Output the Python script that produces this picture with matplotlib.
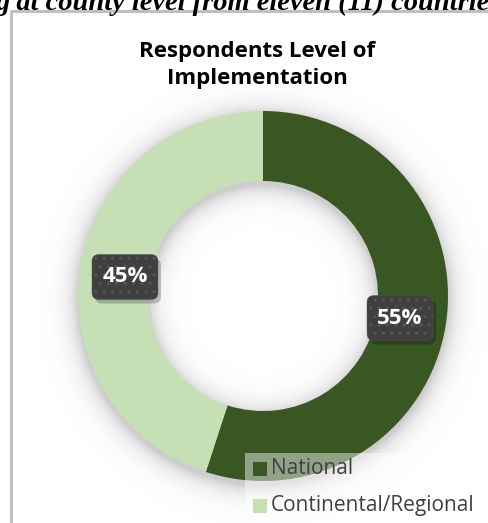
import numpy as np
import matplotlib
matplotlib.use("Agg")
import matplotlib.pyplot as plt
from matplotlib.patches import FancyBboxPatch, Rectangle

# chart data
labels = ["National", "Continental/Regional"]
shares = [55, 45]
colors = ["#385723", "#c5e0b4"]
title = "Respondents Level of\nImplementation"
caption = "g at county level from eleven (11) countries"

W, H = 488, 523
fig = plt.figure(figsize=(W / 100, H / 100), dpi=100)
ax = fig.add_axes([0, 0, 1, 1])

# donut placement (pixel units, y up)
cx, cy = 263, H - 296
r_out, r_in = 185, 115

# soft drop shadow around the ring
yy, xx = np.mgrid[0:H, 0:W]
d = np.hypot(xx + 0.5 - cx, (H - yy - 0.5) - (cy - 4))
outside = np.clip(d - r_out, 0, None)
inside = np.clip(r_in - d, 0, None)
dist = np.where(d > r_out, outside, np.where(d < r_in, inside, 0))
alpha = 0.30 * np.exp(-dist / 10.0)
shadow = np.zeros((H, W, 4))
shadow[..., :3] = 0.35
shadow[..., 3] = alpha
ax.imshow(shadow, extent=(0, W, 0, H), origin="upper", zorder=1, interpolation="bilinear")

wedges, _ = ax.pie(shares, colors=colors, startangle=90, counterclock=False,
                   radius=r_out, center=(cx, cy), frame=True,
                   wedgeprops=dict(width=r_out - r_in, linewidth=0))
for w in wedges:
    w.set_zorder(2)
ax.set_xlim(0, W)
ax.set_ylim(0, H)
ax.set_aspect("equal")
ax.axis("off")

# percentage labels in dark dotted boxes
label_pos = [(400, H - 318), (125, H - 277)]
for (lx, ly), v in zip(label_pos, shares):
    bw, bh = 66, 45
    sh = FancyBboxPatch((lx - bw / 2 + 3, ly - bh / 2 - 4), bw, bh,
                        boxstyle="round,pad=0,rounding_size=7",
                        fc="#000000", ec="none", alpha=0.22, zorder=4)
    ax.add_patch(sh)
    box = FancyBboxPatch((lx - bw / 2, ly - bh / 2), bw, bh,
                         boxstyle="round,pad=0,rounding_size=7",
                         fc="#404040", ec="#565656", lw=0.3, hatch="..", zorder=5)
    ax.add_patch(box)
    ax.text(lx, ly, f"{v}%", color="white", fontsize=16, fontweight="bold",
            family="Open Sans", ha="center", va="center", zorder=6)

# title
ax.text(257, H - 65, title, ha="center", va="center", fontsize=16,
        fontweight="bold", family="Open Sans", linespacing=1.4, zorder=6)

# legend with translucent backing
ax.add_patch(Rectangle((245, 0), W - 245, H - 453, fc="white", ec="none",
                       alpha=0.45, zorder=7))
for i, (lab, c) in enumerate(zip(labels, colors)):
    y = H - 469 - i * 37
    ax.add_patch(Rectangle((253, y - 7), 14, 14, fc=c, ec="none", zorder=8))
    ax.text(271, y, lab, fontsize=15, family="Open Sans", color="#404040",
            ha="left", va="center", zorder=8)

# chart frame
ax.plot([10.5, 10.5, W + 5], [-5, H - 10.5, H - 10.5], color="#bfbfbf", lw=2.2,
        solid_capstyle="butt", zorder=9)

# heading line from the page above
ax.text(-4, H - 10, caption, fontsize=20.5, family="Liberation Serif",
        fontweight="bold", style="italic", ha="left", va="baseline", zorder=9)

fig.savefig("out.png", dpi=100)
